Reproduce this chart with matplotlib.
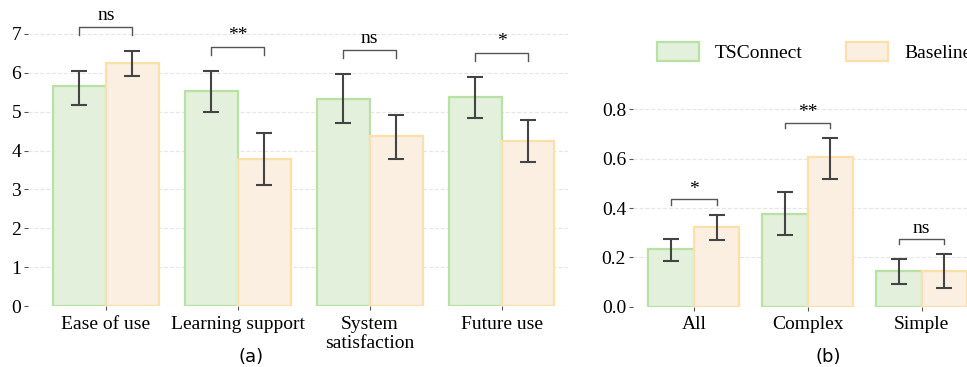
import matplotlib
matplotlib.use('Agg')
import matplotlib.pyplot as plt
import numpy as np
from matplotlib.patches import Patch

plt.rcParams['font.family'] = ['Liberation Serif', 'DejaVu Serif']
plt.rcParams['font.size'] = 14

# (a) questionnaire scores
cats_a = ['Ease of use', 'Learning support', 'System\nsatisfaction', 'Future use']
ts_a = [5.65, 5.52, 5.33, 5.38]
ts_a_lo = [5.18, 4.98, 4.71, 4.84]
ts_a_hi = [6.05, 6.05, 5.97, 5.90]
bl_a = [6.26, 3.79, 4.38, 4.25]
bl_a_lo = [5.91, 3.11, 3.78, 3.71]
bl_a_hi = [6.57, 4.45, 4.91, 4.78]
sig_a = ['ns', '**', 'ns', '*']

# (b) error rates
cats_b = ['All', 'Complex', 'Simple']
ts_b = [0.234, 0.377, 0.145]
ts_b_lo = [0.187, 0.289, 0.093]
ts_b_hi = [0.274, 0.465, 0.195]
bl_b = [0.323, 0.608, 0.145]
bl_b_lo = [0.269, 0.520, 0.076]
bl_b_hi = [0.372, 0.683, 0.212]
sig_b = ['*', '**', 'ns']

green_face, green_edge = '#e3f0dc', '#b8e1a3'
orange_face, orange_edge = '#faefe1', '#fddfab'
err_color = '#444444'
W = 0.4


def draw(ax, cats, ts, ts_lo, ts_hi, bl, bl_lo, bl_hi, sig, off, h):
    x = np.arange(len(cats))
    ax.bar(x - W / 2, ts, W, color=green_face, edgecolor=green_edge, linewidth=1.6, zorder=2)
    ax.bar(x + W / 2, bl, W, color=orange_face, edgecolor=orange_edge, linewidth=1.6, zorder=2)
    ts, bl = np.array(ts), np.array(bl)
    ax.errorbar(x - W / 2, ts, yerr=[ts - np.array(ts_lo), np.array(ts_hi) - ts],
                fmt='none', ecolor=err_color, elinewidth=1.5, capsize=6, capthick=1.5, zorder=3)
    ax.errorbar(x + W / 2, bl, yerr=[bl - np.array(bl_lo), np.array(bl_hi) - bl],
                fmt='none', ecolor=err_color, elinewidth=1.5, capsize=6, capthick=1.5, zorder=3)
    for i, s in enumerate(sig):
        y = max(ts_hi[i], bl_hi[i]) + off
        ax.plot([i - W / 2, i - W / 2, i + W / 2, i + W / 2], [y, y + h, y + h, y],
                color='#555555', lw=1, clip_on=False)
        ax.text(i, y + h * 1.3, s, ha='center', va='bottom', fontsize=14, clip_on=False)
    ax.set_xticks(x)
    ax.set_xticklabels(cats)
    for sp in ax.spines.values():
        sp.set_visible(False)
    ax.grid(axis='y', linestyle='--', color='#e6e6e6', lw=0.8, zorder=0)
    ax.tick_params(axis='both', length=3, width=0.8, color='#555555', pad=2)
    ax.tick_params(axis='x', pad=4)


fig = plt.figure(figsize=(9.67, 3.67), dpi=100)
ax1 = fig.add_axes([0.029, 0.166, 0.558, 0.805])
draw(ax1, cats_a, ts_a, ts_a_lo, ts_a_hi, bl_a, bl_a_lo, bl_a_hi, sig_a, 0.4, 0.22)
ax1.set_ylim(0, 7.6)
ax1.set_xlim(-0.59, 3.5)
ax1.set_yticks(range(8))

ax2 = fig.add_axes([0.6546, 0.1643, 0.369, 0.571])
draw(ax2, cats_b, ts_b, ts_b_lo, ts_b_hi, bl_b, bl_b_lo, bl_b_hi, sig_b, 0.042, 0.022)
ax2.set_ylim(0, 0.85)
ax2.set_xlim(-0.535, 2.6)
ax2.set_yticks([0, 0.2, 0.4, 0.6, 0.8])

handles = [Patch(facecolor=green_face, edgecolor=green_edge, linewidth=1.6, label='TSConnect'),
           Patch(facecolor=orange_face, edgecolor=orange_edge, linewidth=1.6, label='Baseline')]
fig.legend(handles=handles, loc='center left', bbox_to_anchor=(0.669, 0.858), ncol=2,
           frameon=False, borderpad=0, handlelength=2.2, handleheight=1.1,
           handletextpad=0.8, columnspacing=2.2, fontsize=14)

fig.text(251 / 967, 1 - 357 / 367, '(a)', ha='center', va='center', family='DejaVu Sans', fontsize=13)
fig.text(828 / 967, 1 - 357 / 367, '(b)', ha='center', va='center', family='DejaVu Sans', fontsize=13)

fig.savefig('out.png', dpi=100)
